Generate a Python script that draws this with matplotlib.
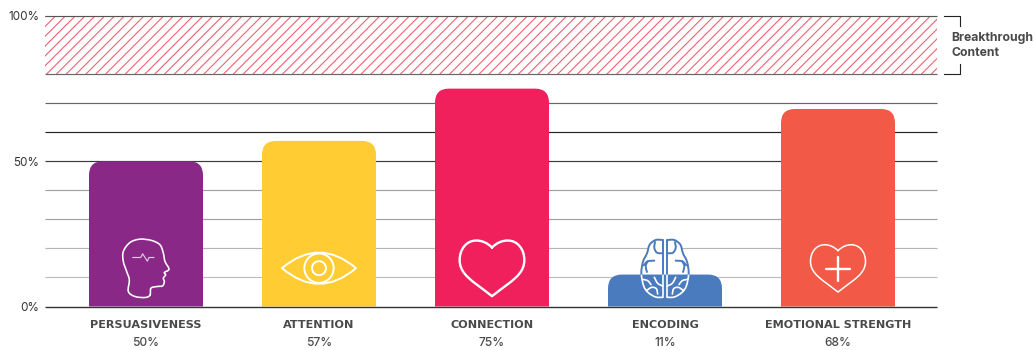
#!/usr/bin/env python3
"""Bar chart of content scores with a hatched breakthrough band."""

import matplotlib
matplotlib.use("Agg")
import matplotlib.pyplot as plt
import numpy as np
from matplotlib.collections import LineCollection
from matplotlib.patches import Circle, PathPatch, Rectangle
from matplotlib.path import Path
from matplotlib.transforms import Affine2D, IdentityTransform


CATEGORIES = ["PERSUASIVENESS", "ATTENTION", "CONNECTION", "ENCODING", "EMOTIONAL STRENGTH"]
SCORES = [50, 57, 75, 11, 68]
COLORS = ["#8A2887", "#FFCC33", "#F0205C", "#4A7BBF", "#F25A47"]
GRID_LEVELS = [10, 20, 30, 40, 50, 60, 70, 80, 100]
GRID_COLORS = ["#BDBDBD", "#B5B5B5", "#A0A0A0", "#A0A0A0", "#3A3A3A",
               "#222222", "#666666", "#666666", "#555555"]
Y_TICKS = [0, 50, 100]
BAND = (80, 100)

TEXT = "#4A4A4A"
W, H = 1035, 350
BAR_W = 114 / 173
RADIUS_PX = 14

plt.rcParams["font.family"] = ["Inter", "DejaVu Sans"]


def rounded_bar(x, value):
    # round only the top corners, the radius is given in pixels so it stays circular
    rx = RADIUS_PX / 173
    ry = RADIUS_PX / (290.5 / 100)
    l, r = x - BAR_W / 2, x + BAR_W / 2
    verts = [(l, 0), (l, value - ry), (l, value), (l + rx, value),
             (r - rx, value), (r, value), (r, value - ry), (r, 0), (l, 0)]
    codes = [Path.MOVETO, Path.LINETO, Path.CURVE3, Path.CURVE3,
             Path.LINETO, Path.CURVE3, Path.CURVE3, Path.LINETO, Path.CLOSEPOLY]
    return Path(verts, codes)


def spline(points, closed=False):
    # catmull-rom through the given points, written as cubic bezier segments
    pts = np.asarray(points, dtype=float)
    if closed:
        pts = np.vstack([pts[-1], pts, pts[0], pts[1]])
    else:
        pts = np.vstack([pts[0], pts, pts[-1]])
    verts = [pts[1]]
    codes = [Path.MOVETO]
    for i in range(1, len(pts) - 2):
        verts += [pts[i] + (pts[i + 1] - pts[i - 1]) / 6,
                  pts[i + 1] - (pts[i + 2] - pts[i]) / 6,
                  pts[i + 1]]
        codes += [Path.CURVE4] * 3
    return Path(verts, codes)


def heart_path(scale=1.0):
    half = [(0, -64), (-14, -78), (-30, -85), (-47, -85), (-76, -85), (-97, -60), (-97, -26),
            (-97, 6), (-74, 25), (-54, 41), (-34, 56), (-14, 71), (0, 82)]
    right = [(-x, y) for x, y in half[::-1]]
    verts = np.array(half + right[1:]) * scale
    codes = [Path.MOVETO] + [Path.CURVE4] * (len(verts) - 1)
    return Path(verts, codes)


def brain_paths():
    outline = [(-7, 60), (-28, 60), (-46, 74), (-54, 100), (-66, 125), (-71, 160),
               (-64, 198), (-50, 218), (-28, 231), (-7, 232)]
    folds = [
        [(-7, 100), (-24, 98), (-32, 84), (-30, 66)],
        [(-64, 136), (-52, 124), (-32, 122)],
        [(-52, 124), (-58, 138), (-54, 156)],
        [(-68, 178), (-52, 182), (-42, 194)],
        [(-56, 212), (-40, 202), (-26, 206), (-22, 222)],
        [(-7, 198), (-22, 190), (-32, 172)],
    ]
    left = [outline] + folds
    right = [[(-a, b) for a, b in stroke] for stroke in left]
    paths = [spline(stroke) for stroke in left + right]
    paths += [Path([(-5, 60), (-5, 232)]), Path([(5, 60), (5, 232)])]
    return paths, outline


def icon_transform(ax, x):
    # icon shapes are in thirds of a pixel, y down, origin at the foot of the bar
    x0, y0 = ax.transData.transform((x, 0))
    return Affine2D().scale(1 / 3, -1 / 3).translate(x0, y0) + IdentityTransform()


def line(ax, path, trans, color="white", lw=1.0, zorder=5, clip=None, fc="none"):
    patch = PathPatch(path, transform=trans, fc=fc, ec=color, lw=lw, zorder=zorder,
                      capstyle="round", joinstyle="round", clip_on=False)
    ax.add_patch(patch)
    if clip is not None:
        patch.set_clip_on(True)
        patch.set_clip_path(clip)
    return patch


def draw_head(ax, x):
    trans = icon_transform(ax, x)
    head = [(12, -34), (15, -55), (34, -60), (50, -62), (55, -75), (52, -85), (59, -95),
            (55, -102), (69, -112), (57, -135), (52, -160), (42, -185), (17, -198),
            (-18, -202), (-48, -192), (-68, -165), (-68, -135), (-58, -105), (-50, -80),
            (-53, -45), (-33, -30), (-3, -27)]
    line(ax, spline(head, closed=True), trans, lw=1.15)
    spark = [(-40, -147), (-16, -147), (-10, -158), (4, -136), (9, -147), (24, -147)]
    line(ax, Path(spark), trans, color="#E3C6E2", lw=0.85)


def draw_eye(ax, x):
    trans = icon_transform(ax, x)
    eye = Path([(-111, -115), (0, -209), (111, -115), (0, -21), (-111, -115)],
               [Path.MOVETO, Path.CURVE3, Path.CURVE3, Path.CURVE3, Path.CURVE3])
    line(ax, eye, trans, lw=1.4)
    for r, lw in ((44, 1.4), (21, 1.4)):
        ax.add_patch(Circle((0, -115), r, transform=trans, fc="none", ec="white", lw=lw,
                            zorder=5, clip_on=False))


def draw_heart(ax, x):
    trans = Affine2D().translate(0, -113) + icon_transform(ax, x)
    line(ax, heart_path(), trans, lw=1.7)


def draw_plus_heart(ax, x):
    base = icon_transform(ax, x)
    trans = Affine2D().translate(0, -113) + base
    line(ax, heart_path(0.85), trans, lw=1.1)
    cross = Path([(-37, -113), (37, -113), (0, -150), (0, -76)],
                 [Path.MOVETO, Path.LINETO, Path.MOVETO, Path.LINETO])
    line(ax, cross, base, lw=1.7)


def draw_brain(ax, x, bar):
    # blue strokes above the bar, white ones where the brain overlaps it
    trans = Affine2D().translate(0, -259.5) + icon_transform(ax, x)
    paths, outline = brain_paths()
    mirrored = [(-a, b) for a, b in outline[::-1]]
    ax.add_patch(PathPatch(Path(outline + mirrored + [outline[0]]), transform=trans,
                           fc="white", ec="none", zorder=2.5))
    for p in paths:
        line(ax, p, trans, color=COLORS[3], lw=1.4, zorder=2.6)
        line(ax, p, trans, color="white", lw=1.2, zorder=5, clip=bar)


def draw_band(ax):
    xmin, xmax = ax.get_xlim()
    rect = Rectangle((xmin, BAND[0]), xmax - xmin, BAND[1] - BAND[0], fc="none", ec="none")
    ax.add_patch(rect)
    # 45 degree hatching, built by hand to get the line spacing right
    x0, y0 = ax.transData.transform((xmin, BAND[0]))
    height = ax.transData.transform((0, BAND[1]))[1] - y0
    starts = np.arange(x0 + 0.7 - height, W, 9.83)
    segs = [[(s, y0), (s + height, y0 + height)] for s in starts]
    hatch = LineCollection(segs, colors="#F4606F", linewidths=0.8, zorder=1,
                           transform=IdentityTransform())
    ax.add_collection(hatch, autolim=False)
    hatch.set_clip_path(rect)


def main():
    fig = plt.figure(figsize=(W / 100, H / 100), dpi=100)
    ax = fig.add_axes([45 / W, 43.5 / H, 892 / W, 290.5 / H])
    xs = np.arange(len(SCORES))
    ax.set_xlim((45 - 146) / 173, (937 - 146) / 173)
    ax.set_ylim(0, 100)
    for spine in ax.spines.values():
        spine.set_visible(False)

    draw_band(ax)
    xmin, xmax = ax.get_xlim()
    ax.hlines(GRID_LEVELS, xmin, xmax, colors=GRID_COLORS, linewidth=0.85, zorder=2, clip_on=False)
    ax.hlines([0], xmin, xmax, colors="#333333", linewidth=1.0, zorder=6, clip_on=False)

    bars = []
    for x, value, color in zip(xs, SCORES, COLORS):
        bar = PathPatch(rounded_bar(x, value), fc=color, ec="none", zorder=3)
        ax.add_patch(bar)
        bars.append(bar)

    draw_head(ax, xs[0])
    draw_eye(ax, xs[1])
    draw_heart(ax, xs[2])
    draw_brain(ax, xs[3], bars[3])
    draw_plus_heart(ax, xs[4])

    ax.set_yticks(Y_TICKS, [f"{t}%" for t in Y_TICKS], fontsize=8.4, color="#333333")
    ax.set_xticks(xs, CATEGORIES, fontsize=8.1, fontweight="bold", color=TEXT,
                  family=["DejaVu Sans"])
    ax.tick_params(axis="y", length=0, pad=4.3)
    ax.tick_params(axis="x", length=0, pad=9.5)
    for x, value in zip(xs, SCORES):
        ax.annotate(f"{value}%", (x, 0), xytext=(0, -26.5), textcoords="offset points",
                    ha="center", va="center", fontsize=8.6, fontweight="medium", color=TEXT)

    # bracket next to the band
    yaxis = ax.get_yaxis_transform()
    ax.plot([1.0078, 1.0258, 1.0258], [100, 100, 96.5], transform=yaxis, color="#222222",
            lw=0.8, clip_on=False)
    ax.plot([1.0078, 1.0258, 1.0258], [80, 80, 83.5], transform=yaxis, color="#222222",
            lw=0.8, clip_on=False)
    fig.text(951 / W, 1 - 38 / H, "Breakthrough", fontsize=8.8, fontweight="bold", color=TEXT,
             va="center")
    fig.text(951 / W, 1 - 53 / H, "Content", fontsize=8.8, fontweight="bold", color=TEXT,
             va="center")

    fig.savefig("out.png", dpi=100)
    plt.close(fig)


if __name__ == "__main__":
    main()
